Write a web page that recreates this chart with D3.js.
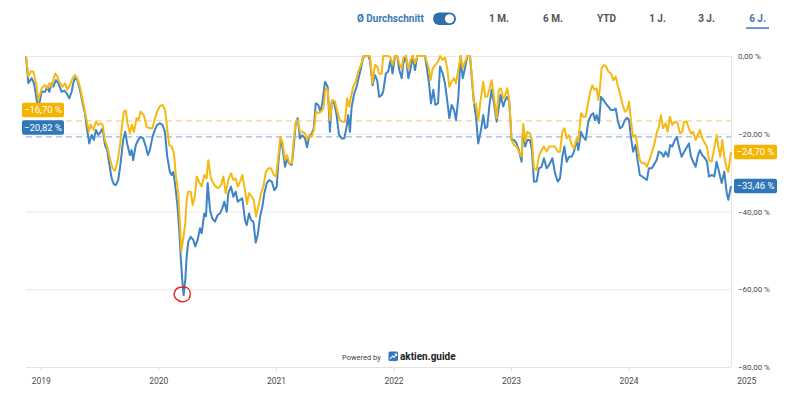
<!DOCTYPE html>
<html><head><meta charset="utf-8">
<script src="https://cdn.jsdelivr.net/npm/d3@7"></script>
<style>
html,body{margin:0;padding:0;background:#fff;}
svg{display:block;font-family:Roboto,"Open Sans",sans-serif;}
</style></head>
<body><svg id="c" width="800" height="401"></svg>
<script>
// ---- Data (drawdown in %, dates as decimal years) ----
const blueDates = [2018.875,2018.895,2018.923,2018.943,2018.966,2018.980,2019.009,2019.037,2019.056,2019.073,2019.094,2019.107,2019.130,2019.150,2019.179,2019.201,2019.221,2019.243,2019.264,2019.277,2019.292,2019.311,2019.334,2019.357,2019.377,2019.391,2019.405,2019.413,2019.434,2019.453,2019.470,2019.490,2019.510,2019.527,2019.547,2019.566,2019.583,2019.604,2019.623,2019.640,2019.660,2019.680,2019.702,2019.719,2019.736,2019.759,2019.774,2019.787,2019.810,2019.830,2019.850,2019.872,2019.895,2019.912,2019.929,2019.952,2019.972,2019.991,2020.014,2020.037,2020.057,2020.077,2020.099,2020.114,2020.128,2020.142,2020.162,2020.179,2020.191,2020.204,2020.216,2020.230,2020.242,2020.255,2020.276,2020.298,2020.315,2020.335,2020.355,2020.369,2020.391,2020.406,2020.420,2020.440,2020.459,2020.482,2020.505,2020.525,2020.544,2020.561,2020.582,2020.595,2020.618,2020.638,2020.658,2020.675,2020.695,2020.714,2020.737,2020.752,2020.771,2020.788,2020.808,2020.828,2020.845,2020.865,2020.884,2020.901,2020.922,2020.941,2020.964,2020.986,2021.006,2021.020,2021.037,2021.054,2021.077,2021.094,2021.111,2021.134,2021.151,2021.168,2021.185,2021.204,2021.224,2021.247,2021.264,2021.281,2021.304,2021.321,2021.338,2021.360,2021.377,2021.394,2021.417,2021.440,2021.459,2021.474,2021.496,2021.516,2021.536,2021.559,2021.581,2021.601,2021.615,2021.629,2021.644,2021.666,2021.686,2021.706,2021.723,2021.742,2021.763,2021.785,2021.799,2021.822,2021.842,2021.861,2021.878,2021.899,2021.912,2021.935,2021.955,2021.975,2021.992,2022.013,2022.032,2022.049,2022.070,2022.083,2022.106,2022.126,2022.146,2022.163,2022.183,2022.202,2022.225,2022.248,2022.268,2022.282,2022.302,2022.319,2022.339,2022.356,2022.379,2022.396,2022.419,2022.438,2022.458,2022.475,2022.495,2022.515,2022.532,2022.551,2022.572,2022.589,2022.608,2022.628,2022.651,2022.668,2022.685,2022.702,2022.721,2022.742,2022.764,2022.781,2022.798,2022.815,2022.835,2022.855,2022.878,2022.895,2022.912,2022.934,2022.951,2022.968,2022.985,2023.005,2023.025,2023.048,2023.067,2023.090,2023.104,2023.121,2023.138,2023.161,2023.178,2023.195,2023.218,2023.237,2023.260,2023.280,2023.303,2023.325,2023.352,2023.375,2023.398,2023.417,2023.437,2023.454,2023.474,2023.494,2023.517,2023.536,2023.559,2023.573,2023.596,2023.615,2023.636,2023.658,2023.681,2023.700,2023.715,2023.729,2023.749,2023.766,2023.785,2023.806,2023.828,2023.851,2023.870,2023.891,2023.908,2023.927,2023.947,2023.969,2023.989,2024.005,2024.020,2024.039,2024.060,2024.077,2024.096,2024.116,2024.139,2024.156,2024.173,2024.196,2024.215,2024.238,2024.258,2024.281,2024.298,2024.315,2024.337,2024.354,2024.371,2024.394,2024.411,2024.428,2024.451,2024.473,2024.490,2024.513,2024.530,2024.549,2024.570,2024.587,2024.606,2024.626,2024.649,2024.666,2024.683,2024.706,2024.728,2024.748,2024.768,2024.791,2024.813,2024.834,2024.847,2024.870];
const blueValues = [0,-7.0,-5.7,-7.0,-11.3,-13.4,-9.2,-9.2,-7.9,-9.2,-7.0,-7.9,-6.2,-7.0,-9.2,-8.9,-9.6,-10.9,-9.2,-7.0,-5.7,-6.2,-8.7,-12.2,-14.7,-18.2,-20.8,-22.5,-20.3,-21.6,-19.0,-20.3,-19.5,-18.6,-22.9,-24.2,-27.6,-31.5,-33.0,-33.2,-31.9,-27.6,-21.6,-19.5,-22.5,-25.5,-24.2,-26.8,-22.9,-21.6,-20.8,-21.2,-23.3,-25.5,-24.2,-20.8,-19.0,-17.7,-17.3,-17.7,-19.5,-25.9,-29.8,-30.6,-29.8,-32.7,-37.9,-44.8,-51.6,-57.6,-61.5,-57.6,-51.6,-47.8,-46.5,-47.3,-49.0,-47.3,-44.3,-45.6,-40.5,-41.2,-32.7,-39.6,-41.8,-42.6,-40.9,-40.5,-39.2,-37.5,-40.1,-35.3,-33.6,-36.2,-34.9,-37.5,-37.0,-36.6,-42.2,-43.5,-40.5,-42.2,-42.6,-48.0,-46.0,-41.3,-38.8,-35.3,-32.7,-31.9,-32.3,-34.5,-33.6,-27.6,-22.0,-23.3,-28.5,-26.3,-27.6,-28.0,-23.3,-17.3,-16.0,-21.2,-20.4,-21.2,-23.5,-20.8,-20.0,-18.6,-12.2,-12.6,-14.3,-12.2,-6.6,-7.9,-19.5,-11.7,-12.2,-15.2,-20.3,-21.2,-21.2,-18.2,-15.2,-19.5,-13.0,-9.6,-7.9,-5.3,-3.2,-0.3,0,0,-1.0,-7.5,-4.9,-6.2,-10.5,-10.1,-9.2,-4.5,-4.0,-1.0,-4.5,0,0,-3.6,-5.7,-1.9,0,-5.7,-3.2,0,-3.6,0,0,0,0,-2.7,-7.0,-12.2,-8.7,-12.6,-12.2,-2.7,-4.5,-7.0,-11.7,-16.0,-12.6,-13.9,-16.5,-10.9,0,-5.7,-3.2,0,0,-6.2,-12.2,-15.6,-22.5,-19.5,-15.2,-18.6,-18.2,-13.0,-8.7,-12.2,-16.9,-13.5,-10.0,-13.0,-11.3,-10.5,-11.7,-21.6,-21.6,-22.5,-24.2,-27.2,-18.2,-23.3,-21.6,-21.6,-24.2,-32.3,-32.3,-28.9,-28.5,-26.3,-28.9,-28.0,-26.3,-30.2,-32.3,-31.5,-25.9,-23.3,-27.2,-25.9,-25.9,-24.6,-21.6,-24.2,-19.5,-20.8,-21.6,-16.9,-15.2,-14.7,-16.5,-15.2,-17.3,-10.5,-11.3,-12.2,-13.0,-13.9,-13.9,-13.5,-16.5,-18.6,-18.2,-16.5,-15.9,-16.5,-20.8,-24.6,-22.9,-26.8,-30.6,-31.0,-31.5,-31.9,-28.9,-28.9,-28.0,-26.8,-24.6,-25.0,-25.9,-24.6,-25.9,-22.9,-23.3,-21.6,-20.8,-23.3,-25.9,-24.6,-23.7,-22.5,-25.9,-27.2,-28.5,-25.9,-24.2,-25.5,-26.3,-27.2,-31.0,-30.6,-31.0,-27.2,-29.8,-32.7,-29.8,-35.3,-37.0,-33.46];

const orangeDates = [2018.875,2018.895,2018.915,2018.937,2018.960,2018.980,2019.009,2019.037,2019.056,2019.073,2019.094,2019.107,2019.124,2019.141,2019.164,2019.187,2019.207,2019.226,2019.249,2019.272,2019.292,2019.311,2019.334,2019.357,2019.377,2019.391,2019.411,2019.425,2019.448,2019.470,2019.490,2019.510,2019.527,2019.547,2019.566,2019.589,2019.612,2019.632,2019.651,2019.674,2019.691,2019.708,2019.725,2019.736,2019.759,2019.776,2019.793,2019.816,2019.833,2019.850,2019.878,2019.901,2019.929,2019.952,2019.972,2019.991,2020.014,2020.037,2020.059,2020.077,2020.094,2020.114,2020.133,2020.150,2020.170,2020.185,2020.196,2020.213,2020.230,2020.242,2020.255,2020.276,2020.293,2020.312,2020.327,2020.346,2020.369,2020.391,2020.411,2020.425,2020.448,2020.467,2020.488,2020.510,2020.533,2020.553,2020.573,2020.595,2020.618,2020.638,2020.658,2020.675,2020.695,2020.714,2020.737,2020.754,2020.771,2020.794,2020.811,2020.831,2020.850,2020.873,2020.893,2020.913,2020.935,2020.958,2020.981,2021.000,2021.020,2021.037,2021.054,2021.077,2021.094,2021.113,2021.134,2021.151,2021.168,2021.185,2021.204,2021.224,2021.247,2021.264,2021.283,2021.304,2021.323,2021.340,2021.360,2021.383,2021.403,2021.423,2021.440,2021.459,2021.479,2021.502,2021.522,2021.544,2021.564,2021.587,2021.606,2021.621,2021.638,2021.657,2021.678,2021.700,2021.723,2021.742,2021.763,2021.785,2021.799,2021.822,2021.842,2021.861,2021.878,2021.899,2021.912,2021.935,2021.955,2021.975,2021.992,2022.013,2022.032,2022.049,2022.070,2022.083,2022.106,2022.126,2022.146,2022.163,2022.183,2022.202,2022.225,2022.268,2022.296,2022.316,2022.333,2022.356,2022.379,2022.396,2022.419,2022.438,2022.458,2022.475,2022.495,2022.515,2022.532,2022.551,2022.572,2022.589,2022.608,2022.628,2022.651,2022.668,2022.685,2022.702,2022.721,2022.742,2022.764,2022.781,2022.798,2022.815,2022.835,2022.855,2022.878,2022.895,2022.912,2022.934,2022.951,2022.968,2022.985,2023.005,2023.025,2023.048,2023.067,2023.090,2023.104,2023.121,2023.138,2023.161,2023.178,2023.195,2023.218,2023.237,2023.260,2023.280,2023.303,2023.325,2023.352,2023.375,2023.398,2023.417,2023.437,2023.454,2023.474,2023.494,2023.517,2023.536,2023.559,2023.573,2023.596,2023.615,2023.636,2023.653,2023.672,2023.692,2023.709,2023.729,2023.743,2023.757,2023.771,2023.791,2023.810,2023.828,2023.851,2023.870,2023.891,2023.908,2023.927,2023.947,2023.969,2023.989,2024.005,2024.020,2024.039,2024.060,2024.077,2024.096,2024.116,2024.139,2024.156,2024.173,2024.196,2024.218,2024.238,2024.258,2024.275,2024.294,2024.315,2024.332,2024.351,2024.371,2024.394,2024.417,2024.436,2024.456,2024.473,2024.493,2024.513,2024.530,2024.549,2024.570,2024.587,2024.606,2024.626,2024.649,2024.666,2024.683,2024.706,2024.728,2024.748,2024.762,2024.779,2024.796,2024.813,2024.834,2024.847,2024.870];
const orangeValues = [0,-5.3,-4.0,-4.0,-7.0,-11.3,-8.3,-7.5,-8.3,-7.0,-7.9,-6.2,-4.5,-5.3,-7.0,-7.9,-7.0,-8.7,-7.5,-5.7,-4.9,-5.7,-7.9,-11.3,-14.3,-16.5,-19.5,-17.7,-19.0,-16.9,-17.7,-17.3,-17.7,-21.6,-23.3,-26.3,-28.9,-29.5,-27.6,-23.3,-18.2,-14.3,-14.0,-16.9,-19.9,-17.7,-19.5,-16.0,-16.5,-14.3,-15.2,-18.2,-18.6,-18.6,-16.0,-14.3,-12.9,-12.6,-13.9,-19.0,-22.9,-23.3,-25.0,-30.6,-35.3,-43.0,-50.3,-46.9,-43.0,-37.0,-34.9,-34.9,-38.3,-36.0,-31.0,-32.3,-33.6,-30.6,-31.5,-26.8,-31.5,-32.7,-33.6,-34.0,-33.2,-31.0,-35.3,-31.9,-30.2,-31.9,-31.5,-33.6,-32.3,-30.6,-34.5,-38.1,-35.3,-36.2,-37.0,-41.3,-38.8,-35.3,-33.6,-29.8,-28.9,-28.9,-30.6,-31.0,-25.9,-20.8,-22.0,-26.8,-25.5,-27.6,-27.6,-21.6,-16.9,-16.5,-19.5,-19.5,-19.9,-21.6,-20.3,-20.8,-19.0,-14.3,-14.7,-14.3,-13.5,-8.3,-8.7,-16.5,-11.3,-11.7,-14.3,-16.5,-16.9,-16.9,-10.9,-13.0,-10.5,-7.9,-6.6,-4.0,-2.3,0,0,0,0,-7.0,-2.3,-2.7,-4.5,-4.6,0,0,0,-0.4,-2.3,0,0,-1.9,-3.2,-0.4,0,-3.2,-1.0,0,-1.9,0,0,0,-2.7,-6.2,-3.2,-2.3,-1.5,0,-1.0,-0.4,-3.2,-7.9,-6.6,-5.7,-7.0,-3.6,0,-3.2,-1.5,0,0,-5.3,-12.2,-12.2,-16.5,-11.3,-6.6,-10.5,-10.5,-8.7,-6.2,-10.5,-16.0,-8.7,-8.3,-10.9,-10.1,-8.3,-11.3,-21.6,-22.9,-23.3,-24.6,-25.9,-17.5,-22.0,-19.5,-19.9,-21.6,-28.9,-29.3,-25.9,-24.2,-23.3,-24.6,-23.3,-23.3,-23.3,-24.6,-24.6,-19.5,-18.6,-21.2,-20.4,-22.9,-23.7,-21.2,-22.0,-14.7,-15.6,-15.6,-12.6,-9.6,-7.5,-8.7,-8.3,-11.3,-8.3,-3.2,-2.3,-2.7,-4.0,-4.5,-6.2,-5.3,-7.5,-9.6,-12.2,-14.3,-13.9,-11.7,-16.5,-20.8,-20.4,-23.3,-26.8,-27.6,-27.6,-28.5,-27.2,-25.0,-22.9,-19.9,-18.2,-15.2,-18.6,-17.3,-19.5,-15.6,-17.7,-16.9,-17.3,-19.9,-19.5,-16.9,-16.9,-18.6,-19.9,-19.5,-21.6,-20.4,-19.0,-21.2,-22.5,-23.3,-26.8,-27.2,-23.7,-20.4,-23.3,-25.9,-21.6,-25.9,-28.9,-29.8,-24.70];

const yTicks = [0, -20, -40, -60, -80];
const xTickYears = [2019, 2020, 2021, 2022, 2023, 2024, 2025];
const averages = { orange: -16.70, blue: -20.82 };
const periodButtons = ["1 M.", "6 M.", "YTD", "1 J.", "3 J.", "6 J."];
const activePeriod = "6 J.";
const domainStart = 2018.875, domainEnd = 2024.870;

// ---- Helpers ----
function toDate(d){
  const yr = Math.floor(d);
  const s = Date.UTC(yr,0,1), e = Date.UTC(yr+1,0,1);
  return new Date(s + (d - yr) * (e - s));
}
const fmt = v => d3.format(".2f")(Math.abs(v) < 1e-9 ? 0 : v).replace(".", ",") + " %";

const BLUE = "#3f84c4", ORANGE = "#f5b914";
const BLUE_BOX = "#2f77b7", ORANGE_BOX = "#f4b400";

const svg = d3.select("#c");
const L = 26, R = 731, T = 56, B = 367;

const x = d3.scaleUtc().domain([toDate(domainStart), toDate(domainEnd)]).range([L, R]);
const y = d3.scaleLinear().domain([-80, 0]).range([B, T]);

// gridlines
svg.append("g").attr("transform", `translate(${R},0)`)
  .call(d3.axisLeft(y).tickValues(yTicks).tickSize(R - L).tickFormat(""))
  .call(g => g.select(".domain").remove())
  .call(g => g.selectAll("line").attr("stroke", "#e9e9e9").attr("stroke-width", 1));

// right vertical line
svg.append("line").attr("x1", R + 0.5).attr("x2", R + 0.5).attr("y1", T).attr("y2", B)
  .attr("stroke", "#e6e6e6");

// y labels
svg.append("g").attr("transform", `translate(${R},0)`)
  .call(d3.axisRight(y).tickValues(yTicks).tickSize(0).tickPadding(7).tickFormat(fmt))
  .call(g => g.select(".domain").remove())
  .call(g => g.selectAll("text").attr("fill", "#4a4a4a").attr("font-size", "8px")
     .attr("font-family", "Roboto, sans-serif").attr("dy", "0.32em"));

// x axis
const xg = svg.append("g").attr("transform", `translate(0,${B})`)
  .call(d3.axisBottom(x).tickValues(xTickYears.map(v => toDate(v))).tickSize(4).tickPadding(7)
     .tickFormat(d3.utcFormat("%Y")));
xg.select(".domain").remove();
xg.selectAll("line").attr("stroke", "#dcdcdc").attr("y1", 0.5)
  .attr("display", d => x(d) > R + 1 ? "none" : null);
xg.selectAll("text").attr("fill", "#4a4a4a").attr("font-size", "8.5px").attr("font-family", "Roboto, sans-serif");
svg.append("line").attr("x1", L).attr("x2", R).attr("y1", B + 0.5).attr("y2", B + 0.5).attr("stroke", "#e3e3e3");

// average dashed lines
[["orange", "#f7d595"], ["blue", "#9cb6da"]].forEach(([k, c]) => {
  svg.append("line").attr("x1", L).attr("x2", R)
    .attr("y1", y(averages[k])).attr("y2", y(averages[k]))
    .attr("stroke", c).attr("stroke-width", 1.2).attr("stroke-dasharray", "6,4");
});

// lines
const line = d3.line().defined(d => d[0] != null && d[1] != null)
  .x(d => x(toDate(d[0]))).y(d => y(d[1])).curve(d3.curveLinear);
const blueData = blueDates.map((d, i) => [d, blueValues[i]]);
const orangeData = orangeDates.map((d, i) => [d, orangeValues[i]]);
svg.append("path").datum(blueData).attr("d", line).attr("fill", "none")
  .attr("stroke", BLUE).attr("stroke-width", 2).attr("stroke-linejoin", "round");
svg.append("path").datum(orangeData).attr("d", line).attr("fill", "none")
  .attr("stroke", ORANGE).attr("stroke-width", 2).attr("stroke-linejoin", "round");

if (blueDates.length !== blueValues.length || orangeDates.length !== orangeValues.length) {
  svg.append("text").attr("x", 100).attr("y", 330).attr("fill", "red").attr("font-size", 12)
    .text(`DEBUG b ${blueDates.length}/${blueValues.length} o ${orangeDates.length}/${orangeValues.length}`);
}

// value label boxes
function tag(xLeft, cy, w, text, fill){
  const h = 14.5;
  svg.append("rect").attr("x", xLeft).attr("y", cy - h / 2).attr("width", w).attr("height", h)
    .attr("rx", 2).attr("fill", fill);
  svg.append("text").attr("x", xLeft + w / 2).attr("y", cy).attr("dy", "0.35em")
    .attr("text-anchor", "middle").attr("fill", "#fff").attr("font-size", "9.5px")
    .attr("font-family", "Roboto, sans-serif").text(text);
}
tag(22, y(averages.orange) - 11, 42, fmt(averages.orange), ORANGE_BOX);
tag(22, y(averages.blue) - 9.5, 42, fmt(averages.blue), BLUE_BOX);
tag(734, y(orangeValues[orangeValues.length - 1]), 43, fmt(orangeValues[orangeValues.length - 1]), ORANGE_BOX);
tag(734, y(blueValues[blueValues.length - 1]), 43, fmt(blueValues[blueValues.length - 1]), BLUE_BOX);

// red hand-drawn circle around the minimum
const minI = d3.minIndex(blueValues);
const mx = x(toDate(blueDates[minI])) - 1, my = y(blueValues[minI]) - 1;
svg.append("path")
  .attr("d", `M${mx+2},${my-7} C${mx+9},${my-7} ${mx+10},${my+6} ${mx+2},${my+7.5} C${mx-5},${my+8.5} ${mx-10},${my+3} ${mx-8},${my-2} C${mx-7},${my-6} ${mx-3},${my-7.5} ${mx+3},${my-6.5}`)
  .attr("fill", "none").attr("stroke", "#e8221b").attr("stroke-width", 1.4);

// top controls
const ctrl = svg.append("g").attr("font-family", "Roboto, sans-serif").attr("font-weight", "bold").attr("font-size", "10px");
ctrl.append("text").attr("x", 357).attr("y", 22).attr("fill", "#3a78b6").text("Ø Durchschnitt");
ctrl.append("rect").attr("x", 433).attr("y", 12.5).attr("width", 23).attr("height", 12.5).attr("rx", 6.25).attr("fill", "#2f6fae");
ctrl.append("circle").attr("cx", 449.5).attr("cy", 18.75).attr("r", 4.6).attr("fill", "#fff");
const btnX = [499, 553, 606.5, 657.5, 706.5, 757.5];
periodButtons.forEach((p, i) => {
  ctrl.append("text").attr("x", btnX[i]).attr("y", 22).attr("text-anchor", "middle")
    .attr("fill", p === activePeriod ? "#3a78b6" : "#555").text(p);
});
ctrl.append("rect").attr("x", 746).attr("y", 27.3).attr("width", 23).attr("height", 1.5).attr("fill", "#3a78b6");

// powered by
const pb = svg.append("g").attr("font-family", "Roboto, sans-serif");
pb.append("text").attr("x", 342).attr("y", 359.5).attr("font-size", "7.5px").attr("fill", "#444").text("Powered by");
pb.append("rect").attr("x", 388.5).attr("y", 351.5).attr("width", 9.5).attr("height", 9.5).attr("rx", 1.5).attr("fill", "#2f77c0");
pb.append("path").attr("d", "M390,359 L392.5,356 L394,357.5 L396.5,354 M394.5,354 L396.5,354 L396.5,356")
  .attr("stroke", "#fff").attr("stroke-width", 1.1).attr("fill", "none");
pb.append("text").attr("x", 400).attr("y", 360).attr("font-size", "10px").attr("font-weight", "bold").attr("fill", "#222").text("aktien.guide");
</script></body></html>
